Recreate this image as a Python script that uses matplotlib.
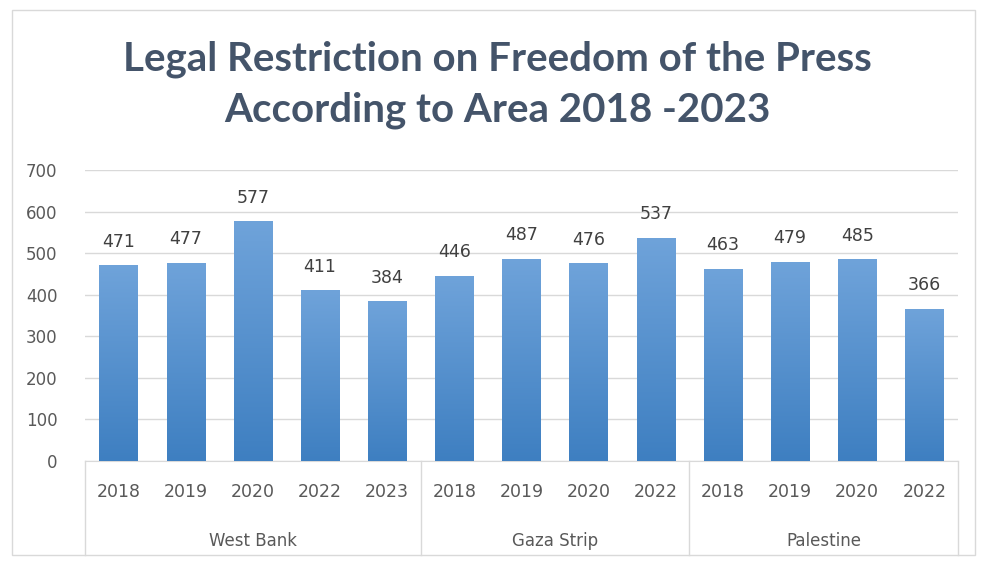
import matplotlib.pyplot as plt
import numpy as np
from matplotlib.patches import Rectangle
from matplotlib.colors import LinearSegmentedColormap
from matplotlib.transforms import blended_transform_factory

plt.rcParams['font.family'] = ['DejaVu Sans']

groups = ["West Bank", "Gaza Strip", "Palestine"]
years_wb = ["2018", "2019", "2020", "2022", "2023"]
years_gz = ["2018", "2019", "2020", "2022"]
years_pl = ["2018", "2019", "2020", "2022"]
vals_wb = [471, 477, 577, 411, 384]
vals_gz = [446, 487, 476, 537]
vals_pl = [463, 479, 485, 366]

years = years_wb + years_gz + years_pl
values = vals_wb + vals_gz + vals_pl
sizes = [len(vals_wb), len(vals_gz), len(vals_pl)]

fig = plt.figure(figsize=(9.83, 5.65), dpi=100)
fig.patch.set_facecolor("white")
# outer chart border
fig.add_artist(Rectangle((0.012, 0.018), 0.98, 0.965, transform=fig.transFigure,
                         fill=False, edgecolor="#D9D9D9", linewidth=1))

ax = fig.add_axes([0.0865, 0.184, 0.888, 0.515])
x = np.arange(len(values))
bars = ax.bar(x, values, width=0.57, color="#5B9BD5", zorder=2)

# vertical gradient on each bar
grad = np.linspace(0, 1, 256).reshape(-1, 1)
cmap = LinearSegmentedColormap.from_list("g", ["#3E7FC1", "#6FA3DA"])
for b in bars:
    bx, by = b.get_x(), b.get_y()
    w, h = b.get_width(), b.get_height()
    im = ax.imshow(grad, extent=[bx, bx + w, by, by + h], aspect="auto",
                   cmap=cmap, origin="lower", zorder=3)
    im.set_clip_path(b)

for xi, v in zip(x, values):
    ax.text(xi, v + 35, str(v), ha="center", va="bottom", fontsize=12.5, color="#404040")

ax.set_xlim(-0.5, len(values) - 0.5)
ax.set_ylim(0, 700)
ax.set_yticks(range(0, 701, 100))
ax.tick_params(axis="y", length=0, labelsize=12, labelcolor="#595959", pad=20)
ax.set_xticks([])
ax.grid(axis="y", color="#D9D9D9", linewidth=1, zorder=0)
for s in ["top", "right", "left"]:
    ax.spines[s].set_visible(False)
ax.spines["bottom"].set_color("#D9D9D9")

# multi-level category axis
tr = blended_transform_factory(ax.transData, ax.transAxes)
ax_h_px = 0.515 * 565
y_bottom = -(555 - 461) / ax_h_px
y_years = -(492 - 461) / ax_h_px
y_groups = -(541 - 461) / ax_h_px
for xi, yr in zip(x, years):
    ax.text(xi, y_years, yr, transform=tr, ha="center", va="center",
            fontsize=12.5, color="#595959")
start = 0
bounds = [-0.5]
for g, n in zip(groups, sizes):
    mid = start + (n - 1) / 2
    ax.text(mid, y_groups, g, transform=tr, ha="center", va="center",
            fontsize=12, color="#595959")
    start += n
    bounds.append(start - 0.5)
for bx in bounds:
    ax.plot([bx, bx], [0, y_bottom], transform=tr, color="#D9D9D9",
            linewidth=1, clip_on=False)

fig.text(0.506, 0.85, "Legal Restriction on Freedom of the Press\nAccording to Area 2018 -2023",
         ha="center", va="center", fontsize=29, fontweight="bold", color="#44546A",
         linespacing=1.42, family=["Lato", "DejaVu Sans"])

fig.savefig("out.png", dpi=100)
